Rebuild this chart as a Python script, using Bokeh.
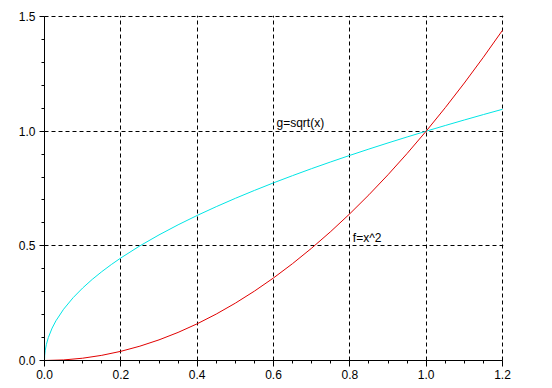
from bokeh.plotting import figure
from bokeh.models import Range1d, FixedTicker, Label
from bokeh.embed import file_html
from bokeh.resources import INLINE

# f = x^2 samples
fx = [0, 0.05, 0.1, 0.15, 0.2, 0.25, 0.3, 0.35, 0.4, 0.45, 0.5, 0.55, 0.6, 0.65,
      0.7, 0.75, 0.8, 0.85, 0.9, 0.95, 1.0, 1.05, 1.1, 1.15, 1.2]
fy = [0, 0.0025, 0.01, 0.0225, 0.04, 0.0625, 0.09, 0.1225, 0.16, 0.2025, 0.25,
      0.3025, 0.36, 0.4225, 0.49, 0.5625, 0.64, 0.7225, 0.81, 0.9025, 1.0,
      1.1025, 1.21, 1.3225, 1.44]

# g = sqrt(x) samples
gx = [0, 0.0005, 0.002, 0.005, 0.01, 0.02, 0.03, 0.05, 0.075, 0.1, 0.125, 0.15,
      0.175, 0.2, 0.25, 0.3, 0.35, 0.4, 0.45, 0.5, 0.55, 0.6, 0.65, 0.7, 0.75,
      0.8, 0.85, 0.9, 0.95, 1.0, 1.05, 1.1, 1.15, 1.2]
gy = [0, 0.0224, 0.0447, 0.0707, 0.1, 0.1414, 0.1732, 0.2236, 0.2739, 0.3162,
      0.3536, 0.3873, 0.4183, 0.4472, 0.5, 0.5477, 0.5916, 0.6325, 0.6708,
      0.7071, 0.7416, 0.7746, 0.8062, 0.8367, 0.8660, 0.8944, 0.9220, 0.9487,
      0.9747, 1.0, 1.0247, 1.0488, 1.0724, 1.0954]

x_ticks = [0, 0.2, 0.4, 0.6, 0.8, 1.0, 1.2]
x_minor = [round(i * 0.05, 2) for i in range(25)]
y_ticks = [0, 0.5, 1.0, 1.5]
y_minor = [round(i * 0.1, 1) for i in range(16)]
x_labels = ["0.0", "0.2", "0.4", "0.6", "0.8", "1.0", "1.2"]
y_labels = ["0.0", "0.5", "1.0", "1.5"]

curve_labels = ["g=sqrt(x)", "f=x^2"]
label_pos = [(0.6, 1.0), (0.8, 0.5)]

# one extra pixel of headroom so the edge grid lines are drawn inside the frame
p = figure(width=552, height=388, output_backend="svg", toolbar_location=None,
           x_range=Range1d(0, 1.2 * 459 / 458), y_range=Range1d(0, 1.5 * 345 / 344),
           min_border_left=44, min_border_right=49, min_border_top=15,
           min_border_bottom=28, outline_line_color=None,
           background_fill_color="white", border_fill_color="white")

p.xaxis.ticker = FixedTicker(ticks=x_ticks, minor_ticks=x_minor)
p.yaxis.ticker = FixedTicker(ticks=y_ticks, minor_ticks=y_minor)
p.xaxis.major_label_overrides = {t: l for t, l in zip(x_ticks, x_labels)}
p.yaxis.major_label_overrides = {t: l for t, l in zip(y_ticks, y_labels)}

for ax in (p.xaxis[0], p.yaxis[0]):
    ax.axis_line_color = "black"
    ax.major_tick_line_color = "black"
    ax.minor_tick_line_color = "black"
    ax.major_tick_in = 0
    ax.minor_tick_in = 0
    ax.major_label_text_font = "Liberation Sans"
    ax.major_label_text_font_size = "12px"
    ax.major_label_text_color = "black"
p.xaxis.bounds = (0, 1.2)
p.yaxis.bounds = (0, 1.5)
p.xaxis.major_tick_out = 6
p.xaxis.minor_tick_out = 3
p.xaxis.major_label_standoff = 3
p.yaxis.major_tick_out = 5
p.yaxis.minor_tick_out = 3
p.yaxis.major_label_standoff = 4

for g in (p.xgrid[0], p.ygrid[0]):
    g.grid_line_color = "black"
    g.grid_line_dash = "4 3"
    g.grid_line_width = 1
p.xgrid.ticker = FixedTicker(ticks=x_ticks)
p.ygrid.ticker = FixedTicker(ticks=y_ticks)

p.line(gx, gy, line_color="#00e5e5", line_width=1)
p.line(fx, fy, line_color="#e00000", line_width=1)

for txt, (lx, ly) in zip(curve_labels, label_pos):
    p.add_layout(Label(x=lx, y=ly, text=txt, x_offset=3, y_offset=1,
                       text_font="Liberation Sans", text_font_size="12px",
                       text_color="black", text_baseline="bottom",
                       text_align="left"))

open("out.html", "w").write(file_html(p, INLINE))
